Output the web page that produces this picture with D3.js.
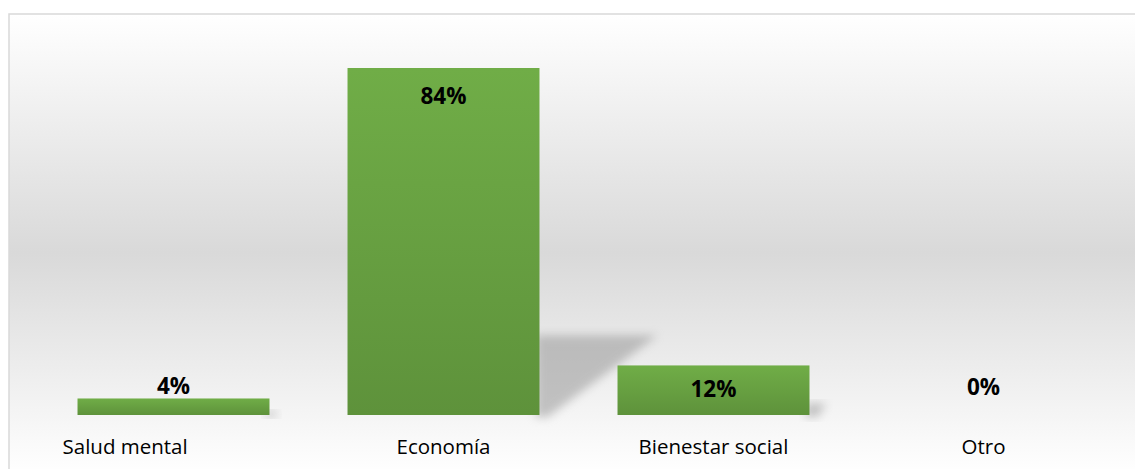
<!DOCTYPE html>
<html>
<head>
<meta charset="utf-8">
<script src="https://cdn.jsdelivr.net/npm/d3@7"></script>
<style>
  html, body { margin: 0; padding: 0; background: #fff; }
  svg { display: block; }
  text { font-family: "Open Sans", "Noto Sans", sans-serif; fill: #000; }
</style>
</head>
<body>
<div class="chart"></div>
<script>
document.addEventListener("DOMContentLoaded", function(event) {

  var categories = ["Salud mental", "Economía", "Bienestar social", "Otro"];
  var values = [4, 84, 12, 0];

  var W = 1135, H = 469;
  var frame = {left: 9, top: 14};
  var baseline = 415;
  var plotLeft = 38.5, plotRight = 1118.5;

  var svg = d3.select(".chart").append("svg")
    .attr("width", W)
    .attr("height", H);

  var defs = svg.append("defs");

  var bg = defs.append("linearGradient")
    .attr("id", "bg").attr("x1", 0).attr("y1", 0).attr("x2", 0).attr("y2", 1);
  bg.append("stop").attr("offset", "0%").attr("stop-color", "#ffffff");
  bg.append("stop").attr("offset", "52%").attr("stop-color", "#d9d9d9");
  bg.append("stop").attr("offset", "100%").attr("stop-color", "#ffffff");

  var barGrad = defs.append("linearGradient")
    .attr("id", "barGrad").attr("x1", 0).attr("y1", 0).attr("x2", 0).attr("y2", 1);
  barGrad.append("stop").attr("offset", "0%").attr("stop-color", "#70ad47");
  barGrad.append("stop").attr("offset", "100%").attr("stop-color", "#5e923b");

  var blur = defs.append("filter").attr("id", "blur")
    .attr("x", "-30%").attr("y", "-30%").attr("width", "160%").attr("height", "160%");
  blur.append("feGaussianBlur").attr("stdDeviation", 5);

  // chart area background + border
  svg.append("rect")
    .attr("x", frame.left)
    .attr("y", frame.top)
    .attr("width", W - frame.left + 5)
    .attr("height", H - frame.top + 5)
    .attr("fill", "url(#bg)")
    .attr("stroke", "#d9d9d9")
    .attr("stroke-width", 1.5);

  var x = d3.scaleBand()
    .domain(categories)
    .range([plotLeft, plotRight])
    .paddingInner(0.289)
    .paddingOuter(0.1445);

  var y = d3.scaleLinear()
    .domain([0, 84])
    .range([baseline, 68]);

  var data = categories.map(function(c, i) { return {cat: c, v: values[i]}; });

  // perspective shadows
  svg.append("g").selectAll("path")
    .data(data.filter(function(d){ return d.v > 0; }))
    .enter().append("path")
    .attr("d", function(d) {
      var h = baseline - y(d.v);
      var x1 = x(d.cat) + x.bandwidth();
      var top = baseline - h * 0.23;
      return "M" + (x1 - 4) + "," + top +
             "L" + (x1 + h * 0.34) + "," + top +
             "L" + (x1 + 8) + "," + (baseline + 2) +
             "L" + (x1 - 4) + "," + (baseline + 2) + "Z";
    })
    .attr("fill", "#8f8f8f")
    .attr("opacity", 0.5)
    .attr("filter", "url(#blur)");

  svg.append("g").selectAll("rect")
    .data(data)
    .enter().append("rect")
    .attr("x", function(d) { return x(d.cat); })
    .attr("y", function(d) { return y(d.v); })
    .attr("width", x.bandwidth())
    .attr("height", function(d) { return baseline - y(d.v); })
    .attr("fill", "url(#barGrad)");

  // value labels
  svg.append("g").selectAll("text")
    .data(data)
    .enter().append("text")
    .attr("x", function(d) { return x(d.cat) + x.bandwidth() / 2; })
    .attr("y", function(d) {
      var top = y(d.v);
      var h = baseline - top;
      if (h > 40) return Math.min(top + 28, (top + baseline) / 2 - 1);
      return Math.min(top, baseline - 16) - 12.5;
    })
    .attr("dy", "0.36em")
    .attr("text-anchor", "middle")
    .style("font-size", "22.5px")
    .style("font-weight", "bold")
    .text(function(d) { return d.v + "%"; });

  // category labels (the first one sits left-aligned in the original)
  svg.append("g").selectAll("text")
    .data(data)
    .enter().append("text")
    .attr("x", function(d, i) {
      return i === 0 ? x(d.cat) - 15 : x(d.cat) + x.bandwidth() / 2;
    })
    .attr("y", 447)
    .attr("dy", "0.35em")
    .attr("text-anchor", function(d, i) { return i === 0 ? "start" : "middle"; })
    .style("font-size", "20.5px")
    .text(function(d) { return d.cat; });

});
</script>
</body>
</html>
